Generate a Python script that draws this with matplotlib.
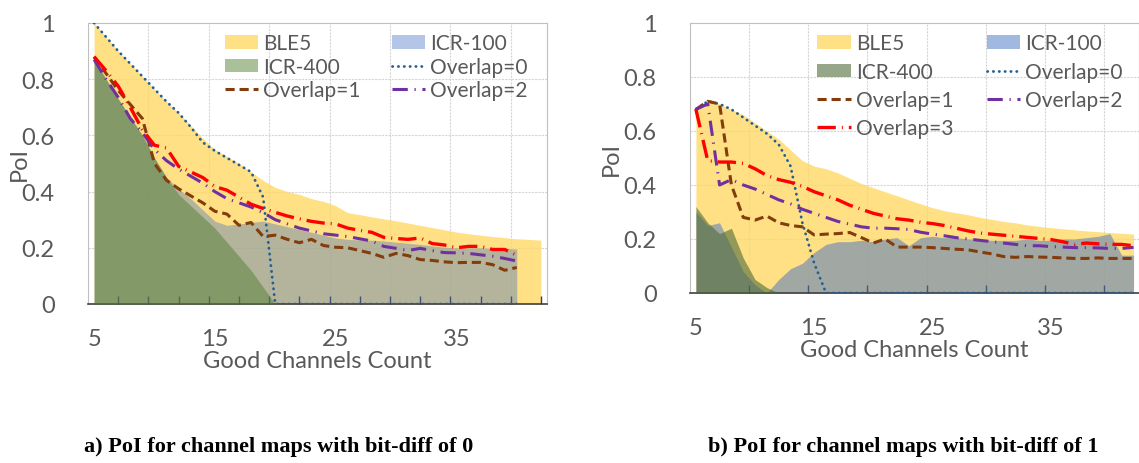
import numpy as np
import matplotlib
matplotlib.use('Agg')
import matplotlib.pyplot as plt
from matplotlib.patches import Patch
from matplotlib.lines import Line2D

# ---- panel a) bit-diff of 0 ----
a_x42 = np.arange(5, 43)
a_x40 = np.arange(5, 41)
a_x20 = np.arange(5, 21)
a_ble5 = [1.0, 0.95, 0.90, 0.855, 0.81, 0.765, 0.72, 0.68, 0.635, 0.59, 0.55, 0.525, 0.50,
          0.47, 0.44, 0.415, 0.40, 0.39, 0.375, 0.365, 0.35, 0.325, 0.318, 0.31, 0.303, 0.296,
          0.288, 0.28, 0.272, 0.264, 0.256, 0.25, 0.245, 0.24, 0.236, 0.232, 0.23, 0.227]
a_icr100 = [0.87, 0.80, 0.73, 0.665, 0.60, 0.52, 0.45, 0.41, 0.375, 0.335, 0.295, 0.28, 0.285,
            0.29, 0.295, 0.285, 0.275, 0.265, 0.255, 0.245, 0.235, 0.23, 0.228, 0.227, 0.224,
            0.22, 0.216, 0.212, 0.207, 0.202, 0.20, 0.20, 0.20, 0.198, 0.197, 0.196]
a_icr400 = [0.87, 0.80, 0.73, 0.665, 0.60, 0.52, 0.45, 0.39, 0.35, 0.31, 0.27, 0.22, 0.17,
            0.12, 0.06, 0.0]
a_ov0 = [1.0, 0.95, 0.90, 0.855, 0.81, 0.765, 0.72, 0.68, 0.63, 0.575, 0.545, 0.52, 0.495,
         0.47, 0.38] + [0.0] * 21
a_ov1 = [0.88, 0.82, 0.76, 0.71, 0.66, 0.50, 0.44, 0.41, 0.385, 0.36, 0.33, 0.32, 0.28, 0.29,
         0.24, 0.245, 0.23, 0.218, 0.23, 0.208, 0.202, 0.20, 0.19, 0.18, 0.166, 0.18, 0.172,
         0.158, 0.155, 0.15, 0.147, 0.148, 0.148, 0.14, 0.12, 0.13]
a_ov2 = [0.87, 0.80, 0.735, 0.66, 0.61, 0.55, 0.51, 0.48, 0.455, 0.43, 0.40, 0.375, 0.36,
         0.345, 0.325, 0.30, 0.285, 0.27, 0.26, 0.25, 0.245, 0.24, 0.232, 0.224, 0.205, 0.198,
         0.19, 0.198, 0.19, 0.183, 0.182, 0.18, 0.175, 0.17, 0.162, 0.153]
a_ov3 = [0.88, 0.83, 0.775, 0.70, 0.62, 0.565, 0.555, 0.49, 0.47, 0.45, 0.418, 0.405, 0.38,
         0.355, 0.34, 0.326, 0.313, 0.303, 0.294, 0.288, 0.285, 0.27, 0.262, 0.255, 0.237,
         0.233, 0.23, 0.235, 0.215, 0.21, 0.20, 0.205, 0.205, 0.194, 0.194, 0.173]

# ---- panel b) bit-diff of 1 ----
b_x42 = np.arange(5, 43)
b_x13 = np.arange(5, 14)
b_ble5 = [0.68, 0.71, 0.70, 0.68, 0.66, 0.63, 0.60, 0.57, 0.53, 0.49, 0.47, 0.46, 0.445,
          0.425, 0.405, 0.39, 0.375, 0.36, 0.345, 0.33, 0.316, 0.305, 0.297, 0.29, 0.28,
          0.273, 0.265, 0.26, 0.252, 0.247, 0.242, 0.238, 0.234, 0.23, 0.227, 0.224, 0.221, 0.218]
b_icr100 = [0.30, 0.25, 0.26, 0.17, 0.08, 0.03, 0.0, 0.05, 0.09, 0.11, 0.15, 0.18, 0.19, 0.19,
            0.195, 0.19, 0.20, 0.205, 0.175, 0.205, 0.21, 0.205, 0.205, 0.20, 0.20, 0.195,
            0.195, 0.195, 0.20, 0.195, 0.195, 0.20, 0.20, 0.205, 0.21, 0.22, 0.14, 0.14]
b_icr400 = [0.32, 0.26, 0.22, 0.24, 0.13, 0.05, 0.02, 0.0, 0.0]
b_ov0 = [0.68, 0.71, 0.70, 0.68, 0.65, 0.62, 0.59, 0.55, 0.47, 0.26, 0.11, 0.0] + [0.0] * 26
b_ov1 = [0.68, 0.71, 0.70, 0.40, 0.28, 0.27, 0.285, 0.26, 0.25, 0.245, 0.215, 0.218, 0.22,
         0.224, 0.205, 0.185, 0.20, 0.17, 0.17, 0.17, 0.168, 0.165, 0.162, 0.16, 0.152, 0.145,
         0.135, 0.132, 0.135, 0.133, 0.132, 0.13, 0.128, 0.128, 0.13, 0.128, 0.128, 0.128]
b_ov2 = [0.68, 0.70, 0.40, 0.42, 0.40, 0.385, 0.365, 0.345, 0.33, 0.31, 0.295, 0.28, 0.265,
         0.255, 0.245, 0.24, 0.24, 0.238, 0.235, 0.225, 0.218, 0.212, 0.205, 0.20, 0.195, 0.19,
         0.185, 0.18, 0.175, 0.175, 0.172, 0.17, 0.168, 0.168, 0.167, 0.165, 0.165, 0.169]
b_ov3 = [0.68, 0.49, 0.485, 0.485, 0.48, 0.46, 0.435, 0.42, 0.41, 0.395, 0.375, 0.36, 0.345,
         0.325, 0.31, 0.295, 0.285, 0.275, 0.27, 0.262, 0.257, 0.25, 0.24, 0.23, 0.222, 0.218,
         0.214, 0.21, 0.206, 0.202, 0.198, 0.19, 0.18, 0.185, 0.182, 0.18, 0.18, 0.175]

TXT = '#595959'
FONT = 'Lato'
YELLOW, BLUE = '#FFD966', '#4472C4'
C_OV0, C_OV1, C_OV2, C_OV3 = '#255E91', '#843C0C', '#7030A0', '#FF0000'
LS_OV0 = (0, (0.1, 2.0))
LS_OV1 = (0, (3.0, 1.6))
LS_OV2 = (0, (5.0, 2.2, 0.4, 2.2))
LS_OV3 = (0, (5.5, 1.8, 0.3, 1.8))

plt.rcParams.update({'font.family': [FONT, 'DejaVu Sans']})
fig = plt.figure(figsize=(11.39, 4.64), dpi=100)
ax_a = fig.add_axes([0.0773, 0.3427, 0.4029, 0.6056])
ax_b = fig.add_axes([0.6058, 0.3664, 0.3946, 0.5819])


def style_axes(ax, minor_marks, ylabelpad):
    ax.set_xlim(4.5, 42.5)
    ax.set_ylim(0, 1)
    for g in np.arange(9.5, 42, 5):
        ax.axvline(g, color='#D6D6D6', lw=0.8, ls=(0, (2, 1)), zorder=0)
    for g in [0.2, 0.4, 0.6, 0.8]:
        ax.axhline(g, color='#D6D6D6', lw=0.8, ls=(0, (2, 1)), zorder=0)
    ax.set_yticks([0, 0.2, 0.4, 0.6, 0.8, 1])
    ax.set_yticklabels(['0', '0.2', '0.4', '0.6', '0.8', '1'])
    ax.tick_params(axis='y', length=0, pad=24, labelsize=17, labelcolor=TXT)
    # tick marks between categories, labels on categories
    ax.set_xticks(minor_marks)
    ax.set_xticklabels([])
    ax.tick_params(axis='x', which='major', direction='in', length=6, width=1, color='#404040')
    ax.set_xticks([5, 15, 25, 35], minor=True)
    ax.set_xticklabels(['5', '15', '25', '35'], minor=True)
    ax.tick_params(axis='x', which='minor', length=0, pad=17, labelsize=17, labelcolor=TXT)
    for s in ['top', 'right', 'left']:
        ax.spines[s].set_color('#BFBFBF')
    ax.spines['bottom'].set_color('#404040')
    ax.spines['bottom'].set_linewidth(1.2)
    ax.set_xlabel('Good Channels Count', fontsize=17, color=TXT, labelpad=1)
    ax.set_ylabel('PoI', fontsize=17, color=TXT, labelpad=ylabelpad)


def draw(ax, xb, ble5, xi, icr100, xg, icr400, xl, ov0, ov1, ov2, ov3, a100, c400, a400):
    ax.fill_between(xb, 0, ble5, color=YELLOW, alpha=0.8, lw=0, zorder=1)
    ax.fill_between(xi, 0, icr100, color=BLUE, alpha=a100, lw=0, zorder=2)
    ax.fill_between(xg, 0, icr400, color=c400, alpha=a400, lw=0, zorder=3)
    ax.plot(xl, ov0, color=C_OV0, lw=2.0, ls=LS_OV0, dash_capstyle='round', zorder=4)
    ax.plot(xl, ov1, color=C_OV1, lw=2.2, ls=LS_OV1, zorder=5)
    ax.plot(xl, ov2, color=C_OV2, lw=2.2, ls=LS_OV2, zorder=6)
    ax.plot(xl, ov3, color=C_OV3, lw=2.4, ls=LS_OV3, zorder=7)


def handles(a100, c400, a400, with_ov3):
    h = {
        'BLE5': Patch(facecolor=YELLOW, alpha=0.8, lw=0),
        'ICR-100': Patch(facecolor=BLUE, alpha=a100, lw=0),
        'ICR-400': Patch(facecolor=c400, alpha=a400, lw=0),
        'Overlap=0': Line2D([], [], color=C_OV0, lw=2.0, ls=LS_OV0, dash_capstyle='round'),
        'Overlap=1': Line2D([], [], color=C_OV1, lw=2.2, ls=LS_OV1),
        'Overlap=2': Line2D([], [], color=C_OV2, lw=2.2, ls=LS_OV2),
        'Overlap=3': Line2D([], [], color=C_OV3, lw=2.4, ls=LS_OV3),
    }
    order = ['BLE5', 'ICR-400', 'Overlap=1'] + (['Overlap=3'] if with_ov3 else []) + \
            ['ICR-100', 'Overlap=0', 'Overlap=2']
    return [h[k] for k in order], order


minor_a = [7, 9.5, 12, 14.5, 17, 19.5, 22, 24.5, 27, 29.5, 32, 34.5, 37, 39.5, 42]
minor_b = [9.5, 14.5, 19.5, 24.5, 29.5, 34.5, 39.5]

draw(ax_a, a_x42, a_ble5, a_x40, a_icr100, a_x20, a_icr400, a_x40,
     a_ov0, a_ov1, a_ov2, a_ov3, 0.4, '#548235', 0.5)
style_axes(ax_a, minor_a, -6)
hs, ls = handles(0.4, '#548235', 0.5, False)
ax_a.legend(hs, ls, ncol=2, loc='upper left', bbox_to_anchor=(0.275, 1.0), frameon=False,
            fontsize=15, labelcolor=TXT, handlelength=1.6, handleheight=0.6,
            handletextpad=0.25, columnspacing=1.5, labelspacing=0.15, borderaxespad=0.1)

draw(ax_b, b_x42, b_ble5, b_x42, b_icr100, b_x13, b_icr400, b_x42,
     b_ov0, b_ov1, b_ov2, b_ov3, 0.5, '#4E6B3A', 0.6)
style_axes(ax_b, minor_b, 1)
hs, ls = handles(0.5, '#4E6B3A', 0.6, True)
ax_b.legend(hs, ls, ncol=2, loc='upper left', bbox_to_anchor=(0.26, 1.0), frameon=False,
            fontsize=15, labelcolor=TXT, handlelength=1.6, handleheight=0.6,
            handletextpad=0.25, columnspacing=1.6, labelspacing=0.4, borderaxespad=0.1)

fig.text(0.245, 0.025, 'a) PoI for channel maps with bit-diff of 0', ha='center', va='baseline',
         family='Liberation Serif', weight='bold', fontsize=16, color='black')
fig.text(0.793, 0.025, 'b) PoI for channel maps with bit-diff of 1', ha='center', va='baseline',
         family='Liberation Serif', weight='bold', fontsize=16, color='black')

fig.savefig('out.png', dpi=100)
